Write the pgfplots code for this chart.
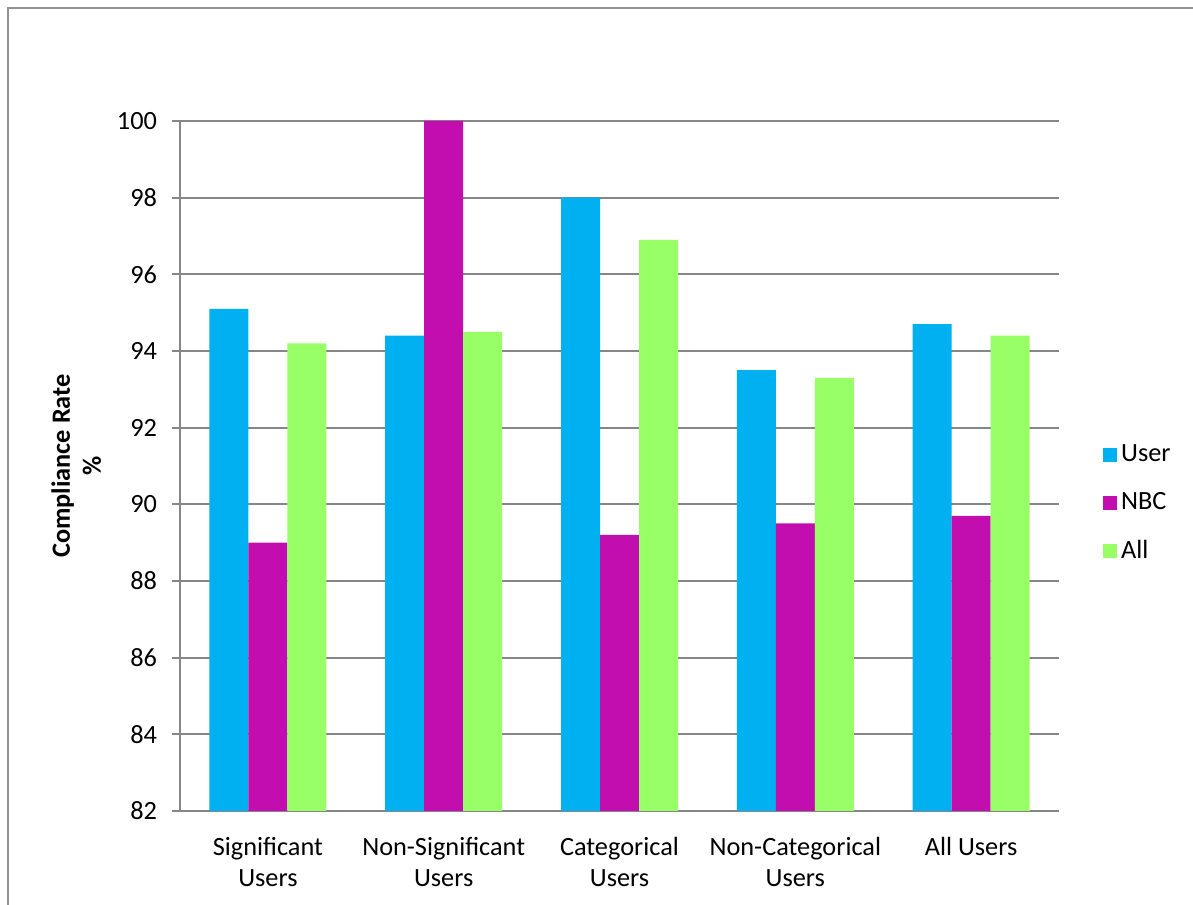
\documentclass[border=0pt]{standalone}
\usepackage{pgfplots}
\pgfplotsset{compat=1.18}
\usepackage{fontspec}
\setmainfont{Carlito}

\definecolor{cUser}{HTML}{00B0F0}
\definecolor{cNBC}{HTML}{C20EAE}
\definecolor{cAll}{HTML}{99FF66}
\definecolor{gridgray}{HTML}{868686}

\begin{document}
\begin{tikzpicture}
\begin{axis}[
  scale only axis,
  width=439.5bp, height=345bp,
  ybar=0pt, bar width=19.5bp,
  xmin=-0.5, xmax=4.5,
  ymin=82, ymax=100,
  ytick={82,84,...,100},
  xtick={0,1,2,3,4},
  xticklabels={{Significant\\Users},{Non-Significant\\Users},{Categorical\\Users},{Non-Categorical\\Users},{All Users}},
  xticklabel style={align=center, font=\fontsize{13.2}{15.5}\selectfont, inner sep=0pt, yshift=-9bp},
  yticklabel style={font=\fontsize{13.2}{15.5}\selectfont, xshift=-4bp},
  /pgf/number format/assume math mode=true,
  axis x line*=bottom, axis y line*=left,
  axis line style={gridgray, line width=0.9bp},
  x tick style={draw=none},
  y tick style={gridgray, line width=0.9bp},
  tick align=outside, major tick length=4bp,
  ymajorgrids, grid style={gridgray, line width=0.9bp},
  ylabel={Compliance Rate\\\%},
  ylabel style={align=center, font=\bfseries\fontsize{13.2}{15.5}\selectfont, at={(axis description cs:-0.118,0.5)}, anchor=center},
  legend style={draw=none, fill=none, at={(axis description cs:1.043,0.446)}, anchor=west,
    font=\fontsize{13.2}{15.5}\selectfont, row sep=9.8bp},
  legend cell align=left,
  legend image code/.code={\fill[#1,draw=none] (0bp,-3.5bp) rectangle (7bp,3.5bp);},
]
\addplot[fill=cUser, draw=none] coordinates {(0,95.1) (1,94.4) (2,98.0) (3,93.5) (4,94.7)};
\addplot[fill=cNBC, draw=none] coordinates {(0,89.0) (1,100.0) (2,89.2) (3,89.5) (4,89.7)};
\addplot[fill=cAll, draw=none] coordinates {(0,94.2) (1,94.5) (2,96.9) (3,93.3) (4,94.4)};
\legend{User, NBC, All}
\end{axis}
% chart frame: only its left and top edges fall inside the page
\draw[gridgray!90, line width=0.8bp] (-86bp,-60bp) -- (-86bp,401.5bp) -- (520bp,401.5bp);
\pgfresetboundingbox
\useasboundingbox (-90bp,-47bp) rectangle (506.5bp,405.5bp);
\end{tikzpicture}
\end{document}
